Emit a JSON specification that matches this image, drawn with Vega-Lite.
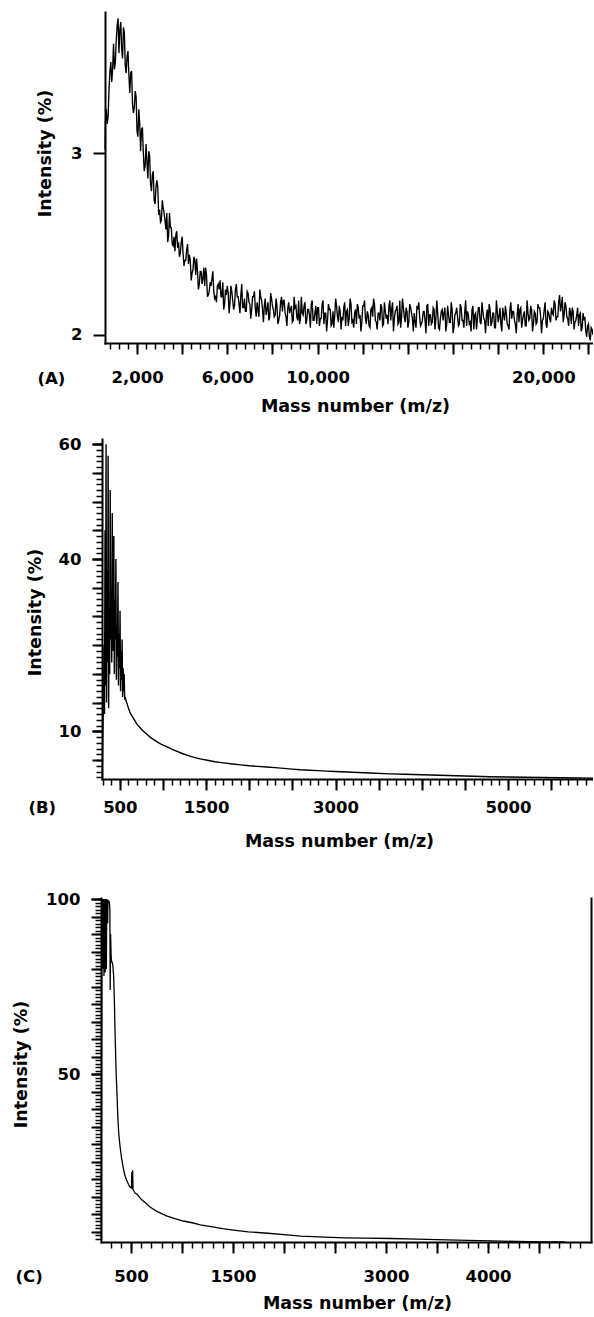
{
"$schema": "https://vega.github.io/schema/vega-lite/v6.json",
"padding": {"left": 0, "top": 12, "right": 0, "bottom": 0},
"background": "white",
"spacing": 0,
"config": {
  "view": {"stroke": null},
  "font": "DejaVu Sans",
  "axis": {"labelFont": "DejaVu Sans", "titleFont": "DejaVu Sans", "labelFontSize": 16.5, "titleFontSize": 17.5, "labelFontWeight": "bold", "titleFontWeight": "bold", "labelColor": "#000", "titleColor": "#000", "tickColor": "#000", "domainColor": "#000", "grid": false, "labelFlush": false, "labelOverlap": false, "domainWidth": 2, "tickWidth": 2, "domainCap": "square"}
},
"datasets": {
"A": [
{"mz":585,"i":3.02},{"mz":600,"i":3.17},{"mz":680,"i":3.16},{"mz":760,"i":3.35},{"mz":840,"i":3.50},{"mz":920,"i":3.46},{"mz":1000,"i":3.46},{"mz":1080,"i":3.62},{"mz":1160,"i":3.74},{"mz":1240,"i":3.68},{"mz":1320,"i":3.57},{"mz":1400,"i":3.69},{"mz":1480,"i":3.48},{"mz":1560,"i":3.53},{"mz":1640,"i":3.43},{"mz":1720,"i":3.44},{"mz":1800,"i":3.27},{"mz":1880,"i":3.25},{"mz":1960,"i":3.31},{"mz":2040,"i":3.09},{"mz":2120,"i":3.16},{"mz":2200,"i":3.13},{"mz":2280,"i":3.00},{"mz":2360,"i":2.93},{"mz":2440,"i":2.95},{"mz":2520,"i":3.01},{"mz":2600,"i":2.83},{"mz":2680,"i":2.88},{"mz":2760,"i":2.74},{"mz":2840,"i":2.81},{"mz":2920,"i":2.81},{"mz":3000,"i":2.69},{"mz":3080,"i":2.63},{"mz":3160,"i":2.70},{"mz":3240,"i":2.63},{"mz":3320,"i":2.67},{"mz":3400,"i":2.55},{"mz":3480,"i":2.59},{"mz":3560,"i":2.50},{"mz":3640,"i":2.54},{"mz":3720,"i":2.55},{"mz":3800,"i":2.48},{"mz":3880,"i":2.43},{"mz":3960,"i":2.51},{"mz":4040,"i":2.45},{"mz":4120,"i":2.41},{"mz":4200,"i":2.47},{"mz":4280,"i":2.39},{"mz":4360,"i":2.41},{"mz":4440,"i":2.34},{"mz":4520,"i":2.43},{"mz":4600,"i":2.33},{"mz":4680,"i":2.35},{"mz":4760,"i":2.28},{"mz":4840,"i":2.35},{"mz":4920,"i":2.31},{"mz":5000,"i":2.27},{"mz":5080,"i":2.33},{"mz":5160,"i":2.22},{"mz":5240,"i":2.29},{"mz":5320,"i":2.31},{"mz":5400,"i":2.24},{"mz":5480,"i":2.21},{"mz":5560,"i":2.27},{"mz":5640,"i":2.25},{"mz":5720,"i":2.21},{"mz":5800,"i":2.29},{"mz":5880,"i":2.17},{"mz":5960,"i":2.22},{"mz":6040,"i":2.23},{"mz":6120,"i":2.18},{"mz":6200,"i":2.24},{"mz":6280,"i":2.14},{"mz":6360,"i":2.25},{"mz":6440,"i":2.21},{"mz":6520,"i":2.17},{"mz":6600,"i":2.22},{"mz":6680,"i":2.15},{"mz":6760,"i":2.20},{"mz":6840,"i":2.13},{"mz":6920,"i":2.23},{"mz":7000,"i":2.17},{"mz":7080,"i":2.14},{"mz":7160,"i":2.21},{"mz":7240,"i":2.15},{"mz":7320,"i":2.18},{"mz":7400,"i":2.10},{"mz":7480,"i":2.21},{"mz":7560,"i":2.14},{"mz":7640,"i":2.16},{"mz":7720,"i":2.11},{"mz":7800,"i":2.18},{"mz":7880,"i":2.10},{"mz":7960,"i":2.20},{"mz":8040,"i":2.14},{"mz":8120,"i":2.11},{"mz":8200,"i":2.16},{"mz":8280,"i":2.08},{"mz":8360,"i":2.18},{"mz":8440,"i":2.13},{"mz":8520,"i":2.19},{"mz":8600,"i":2.10},{"mz":8680,"i":2.15},{"mz":8760,"i":2.12},{"mz":8840,"i":2.16},{"mz":8920,"i":2.08},{"mz":9000,"i":2.15},{"mz":9080,"i":2.10},{"mz":9160,"i":2.19},{"mz":9240,"i":2.09},{"mz":9320,"i":2.12},{"mz":9400,"i":2.16},{"mz":9480,"i":2.06},{"mz":9560,"i":2.14},{"mz":9640,"i":2.11},{"mz":9720,"i":2.17},{"mz":9800,"i":2.08},{"mz":9880,"i":2.12},{"mz":9960,"i":2.06},
{"mz":10040,"i":2.15},{"mz":10120,"i":2.09},{"mz":10200,"i":2.17},{"mz":10280,"i":2.06},{"mz":10360,"i":2.12},{"mz":10440,"i":2.08},{"mz":10520,"i":2.14},{"mz":10600,"i":2.05},{"mz":10680,"i":2.13},{"mz":10760,"i":2.11},{"mz":10840,"i":2.16},{"mz":10920,"i":2.07},{"mz":11000,"i":2.13},{"mz":11080,"i":2.10},{"mz":11160,"i":2.15},{"mz":11240,"i":2.05},{"mz":11320,"i":2.14},{"mz":11400,"i":2.09},{"mz":11480,"i":2.17},{"mz":11560,"i":2.08},{"mz":11640,"i":2.12},{"mz":11720,"i":2.06},{"mz":11800,"i":2.15},{"mz":11880,"i":2.11},{"mz":11960,"i":2.07},{"mz":12040,"i":2.16},{"mz":12120,"i":2.09},{"mz":12200,"i":2.13},{"mz":12280,"i":2.05},{"mz":12360,"i":2.14},{"mz":12440,"i":2.10},{"mz":12520,"i":2.17},{"mz":12600,"i":2.07},{"mz":12680,"i":2.12},{"mz":12760,"i":2.08},{"mz":12840,"i":2.15},{"mz":12920,"i":2.06},{"mz":13000,"i":2.13},{"mz":13080,"i":2.11},{"mz":13160,"i":2.16},{"mz":13240,"i":2.08},{"mz":13320,"i":2.18},{"mz":13400,"i":2.09},{"mz":13480,"i":2.14},{"mz":13560,"i":2.06},{"mz":13640,"i":2.19},{"mz":13720,"i":2.10},{"mz":13800,"i":2.15},{"mz":13880,"i":2.07},{"mz":13960,"i":2.13},
{"mz":14040,"i":2.07},{"mz":14120,"i":2.15},{"mz":14200,"i":2.09},{"mz":14280,"i":2.12},{"mz":14360,"i":2.04},{"mz":14440,"i":2.14},{"mz":14520,"i":2.10},{"mz":14600,"i":2.06},{"mz":14680,"i":2.13},{"mz":14760,"i":2.08},{"mz":14840,"i":2.16},{"mz":14920,"i":2.05},{"mz":15000,"i":2.11},{"mz":15080,"i":2.07},{"mz":15160,"i":2.14},{"mz":15240,"i":2.09},{"mz":15320,"i":2.12},{"mz":15400,"i":2.03},{"mz":15480,"i":2.13},{"mz":15560,"i":2.08},{"mz":15640,"i":2.15},{"mz":15720,"i":2.06},{"mz":15800,"i":2.11},{"mz":15880,"i":2.07},{"mz":15960,"i":2.14},{"mz":16040,"i":2.04},{"mz":16120,"i":2.12},{"mz":16200,"i":2.10},{"mz":16280,"i":2.06},{"mz":16360,"i":2.15},{"mz":16440,"i":2.08},{"mz":16520,"i":2.13},{"mz":16600,"i":2.05},{"mz":16680,"i":2.11},{"mz":16760,"i":2.07},{"mz":16840,"i":2.14},{"mz":16920,"i":2.03},{"mz":17000,"i":2.12},{"mz":17080,"i":2.09},{"mz":17160,"i":2.15},{"mz":17240,"i":2.06},{"mz":17320,"i":2.13},{"mz":17400,"i":2.08},{"mz":17480,"i":2.11},{"mz":17560,"i":2.05},{"mz":17640,"i":2.14},{"mz":17720,"i":2.07},{"mz":17800,"i":2.12},{"mz":17880,"i":2.04},{"mz":17960,"i":2.13},{"mz":18040,"i":2.10},{"mz":18120,"i":2.06},{"mz":18200,"i":2.15},{"mz":18280,"i":2.08},{"mz":18360,"i":2.12},{"mz":18440,"i":2.05},{"mz":18520,"i":2.14},{"mz":18600,"i":2.09},{"mz":18680,"i":2.13},{"mz":18760,"i":2.06},{"mz":18840,"i":2.11},{"mz":18920,"i":2.07},{"mz":19000,"i":2.15},{"mz":19080,"i":2.08},{"mz":19160,"i":2.13},{"mz":19240,"i":2.05},{"mz":19320,"i":2.12},{"mz":19400,"i":2.09},{"mz":19480,"i":2.14},{"mz":19560,"i":2.06},{"mz":19640,"i":2.12},{"mz":19720,"i":2.07},{"mz":19800,"i":2.15},{"mz":19880,"i":2.10},{"mz":19960,"i":2.08},{"mz":20040,"i":2.14},{"mz":20120,"i":2.06},{"mz":20200,"i":2.13},{"mz":20280,"i":2.09},{"mz":20360,"i":2.15},{"mz":20440,"i":2.11},{"mz":20520,"i":2.17},{"mz":20600,"i":2.10},{"mz":20680,"i":2.18},{"mz":20760,"i":2.13},{"mz":20840,"i":2.21},{"mz":20920,"i":2.11},{"mz":21000,"i":2.16},{"mz":21080,"i":2.09},{"mz":21160,"i":2.15},{"mz":21240,"i":2.06},{"mz":21320,"i":2.13},{"mz":21400,"i":2.07},{"mz":21480,"i":2.11},{"mz":21560,"i":2.05},{"mz":21640,"i":2.12},{"mz":21720,"i":2.04},{"mz":21800,"i":2.08},{"mz":21880,"i":2.02},{"mz":21960,"i":2.05},{"mz":22040,"i":1.99},{"mz":22120,"i":2.04},{"mz":22200,"i":2.00},
{"mz":640,"i":3.24},{"mz":720,"i":3.20},{"mz":800,"i":3.45},{"mz":880,"i":3.39},{"mz":960,"i":3.60},{"mz":1040,"i":3.50},{"mz":1120,"i":3.70},{"mz":1200,"i":3.55},{"mz":1280,"i":3.72},{"mz":1360,"i":3.52},{"mz":1440,"i":3.66},{"mz":1520,"i":3.44},{"mz":1600,"i":3.56},{"mz":1680,"i":3.33},{"mz":1760,"i":3.45},{"mz":1840,"i":3.22},{"mz":1920,"i":3.34},{"mz":2000,"i":3.12},{"mz":2080,"i":3.24},{"mz":2160,"i":3.01},{"mz":2240,"i":3.14},{"mz":2320,"i":2.90},{"mz":2400,"i":3.05},{"mz":2480,"i":2.86},{"mz":2560,"i":2.98},{"mz":2640,"i":2.79},{"mz":2720,"i":2.90},{"mz":2800,"i":2.72},{"mz":2880,"i":2.85},{"mz":2960,"i":2.66},
{"mz":3040,"i":2.62},{"mz":3120,"i":2.74},{"mz":3200,"i":2.67},{"mz":3280,"i":2.58},{"mz":3360,"i":2.51},{"mz":3440,"i":2.67},{"mz":3520,"i":2.59},{"mz":3600,"i":2.49},{"mz":3680,"i":2.46},{"mz":3760,"i":2.57},{"mz":3840,"i":2.51},{"mz":3920,"i":2.45},{"mz":4000,"i":2.54},{"mz":4080,"i":2.38},{"mz":4160,"i":2.41},{"mz":4240,"i":2.50},{"mz":4320,"i":2.44},{"mz":4400,"i":2.30},{"mz":4480,"i":2.36},{"mz":4560,"i":2.41},{"mz":4640,"i":2.42},{"mz":4720,"i":2.25},{"mz":4800,"i":2.35},{"mz":4880,"i":2.28},{"mz":4960,"i":2.37},{"mz":5040,"i":2.37},{"mz":5120,"i":2.21},{"mz":5200,"i":2.24},{"mz":5280,"i":2.27},{"mz":5360,"i":2.35},{"mz":5440,"i":2.20},{"mz":5520,"i":2.18},{"mz":5600,"i":2.28},{"mz":5680,"i":2.30},{"mz":5760,"i":2.21},{"mz":5840,"i":2.14},{"mz":5920,"i":2.25},{"mz":6000,"i":2.27},{"mz":6080,"i":2.12},{"mz":6160,"i":2.27},{"mz":6240,"i":2.19},{"mz":6320,"i":2.16},{"mz":6400,"i":2.28},{"mz":6480,"i":2.21},{"mz":6560,"i":2.12},{"mz":6640,"i":2.28},{"mz":6720,"i":2.15},{"mz":6800,"i":2.13},{"mz":6880,"i":2.24},{"mz":6960,"i":2.18},{"mz":7040,"i":2.09},{"mz":7120,"i":2.21},{"mz":7200,"i":2.24},{"mz":7280,"i":2.10},{"mz":7360,"i":2.14},{"mz":7440,"i":2.25},{"mz":7520,"i":2.19},{"mz":7600,"i":2.07},{"mz":7680,"i":2.20},{"mz":7760,"i":2.14},{"mz":7840,"i":2.08},{"mz":7920,"i":2.23},{"mz":8000,"i":2.16},{"mz":8080,"i":2.10},{"mz":8160,"i":2.20},{"mz":8240,"i":2.06},{"mz":8320,"i":2.11},{"mz":8400,"i":2.21},{"mz":8480,"i":2.19},{"mz":8560,"i":2.12},{"mz":8640,"i":2.05},{"mz":8720,"i":2.18},{"mz":8800,"i":2.14},{"mz":8880,"i":2.07},{"mz":8960,"i":2.21},{"mz":9040,"i":2.16},{"mz":9120,"i":2.08},{"mz":9200,"i":2.06},{"mz":9280,"i":2.21},{"mz":9360,"i":2.11},{"mz":9440,"i":2.18},{"mz":9520,"i":2.08},{"mz":9600,"i":2.14},{"mz":9680,"i":2.04},{"mz":9760,"i":2.19},{"mz":9840,"i":2.08},{"mz":9920,"i":2.16},
{"mz":10000,"i":2.15},{"mz":10080,"i":2.05},{"mz":10160,"i":2.09},{"mz":10240,"i":2.19},{"mz":10320,"i":2.12},{"mz":10400,"i":2.02},{"mz":10480,"i":2.17},{"mz":10560,"i":2.14},{"mz":10640,"i":2.06},{"mz":10720,"i":2.04},{"mz":10800,"i":2.20},{"mz":10880,"i":2.10},{"mz":10960,"i":2.16},{"mz":11040,"i":2.03},{"mz":11120,"i":2.08},{"mz":11200,"i":2.18},{"mz":11280,"i":2.13},{"mz":11360,"i":2.05},{"mz":11440,"i":2.20},{"mz":11520,"i":2.07},{"mz":11600,"i":2.04},{"mz":11680,"i":2.14},{"mz":11760,"i":2.17},{"mz":11840,"i":2.09},{"mz":11920,"i":2.02},{"mz":12000,"i":2.16},{"mz":12080,"i":2.19},{"mz":12160,"i":2.06},{"mz":12240,"i":2.11},{"mz":12320,"i":2.04},{"mz":12400,"i":2.15},{"mz":12480,"i":2.20},{"mz":12560,"i":2.08},{"mz":12640,"i":2.03},{"mz":12720,"i":2.12},{"mz":12800,"i":2.17},{"mz":12880,"i":2.05},{"mz":12960,"i":2.18},{"mz":13040,"i":2.09},{"mz":13120,"i":2.06},{"mz":13200,"i":2.19},{"mz":13280,"i":2.14},{"mz":13360,"i":2.02},{"mz":13440,"i":2.13},{"mz":13520,"i":2.16},{"mz":13600,"i":2.07},{"mz":13680,"i":2.04},{"mz":13760,"i":2.20},{"mz":13840,"i":2.10},{"mz":13920,"i":2.15},
{"mz":14000,"i":2.04},{"mz":14080,"i":2.17},{"mz":14160,"i":2.12},{"mz":14240,"i":2.02},{"mz":14320,"i":2.07},{"mz":14400,"i":2.16},{"mz":14480,"i":2.18},{"mz":14560,"i":2.05},{"mz":14640,"i":2.08},{"mz":14720,"i":2.13},{"mz":14800,"i":2.01},{"mz":14880,"i":2.17},{"mz":14960,"i":2.11},{"mz":15040,"i":2.06},{"mz":15120,"i":2.15},{"mz":15200,"i":2.03},{"mz":15280,"i":2.19},{"mz":15360,"i":2.04},{"mz":15440,"i":2.09},{"mz":15520,"i":2.14},{"mz":15600,"i":2.12},{"mz":15680,"i":2.02},{"mz":15760,"i":2.16},{"mz":15840,"i":2.07},{"mz":15920,"i":2.18},{"mz":16000,"i":2.01},{"mz":16080,"i":2.11},{"mz":16160,"i":2.15},{"mz":16240,"i":2.05},{"mz":16320,"i":2.17},{"mz":16400,"i":2.08},{"mz":16480,"i":2.04},{"mz":16560,"i":2.19},{"mz":16640,"i":2.13},{"mz":16720,"i":2.06},{"mz":16800,"i":2.02},{"mz":16880,"i":2.16},{"mz":16960,"i":2.11},{"mz":17040,"i":2.03},{"mz":17120,"i":2.15},{"mz":17200,"i":2.07},{"mz":17280,"i":2.18},{"mz":17360,"i":2.09},{"mz":17440,"i":2.01},{"mz":17520,"i":2.14},{"mz":17600,"i":2.17},{"mz":17680,"i":2.05},{"mz":17760,"i":2.12},{"mz":17840,"i":2.04},{"mz":17920,"i":2.19},{"mz":18000,"i":2.07},{"mz":18080,"i":2.15},{"mz":18160,"i":2.02},{"mz":18240,"i":2.11},{"mz":18320,"i":2.16},{"mz":18400,"i":2.06},{"mz":18480,"i":2.03},{"mz":18560,"i":2.18},{"mz":18640,"i":2.13},{"mz":18720,"i":2.08},{"mz":18800,"i":2.01},{"mz":18880,"i":2.17},{"mz":18960,"i":2.14},{"mz":19040,"i":2.04},{"mz":19120,"i":2.11},{"mz":19200,"i":2.05},{"mz":19280,"i":2.19},{"mz":19360,"i":2.08},{"mz":19440,"i":2.16},{"mz":19520,"i":2.02},{"mz":19600,"i":2.13},{"mz":19680,"i":2.06},{"mz":19760,"i":2.17},{"mz":19840,"i":2.15},{"mz":19920,"i":2.01},{"mz":20000,"i":2.09},{"mz":20080,"i":2.18},{"mz":20160,"i":2.04},{"mz":20240,"i":2.12},{"mz":20320,"i":2.07},{"mz":20400,"i":2.12},{"mz":20480,"i":2.19},{"mz":20560,"i":2.08},{"mz":20640,"i":2.10},{"mz":20720,"i":2.22},{"mz":20800,"i":2.16},{"mz":20880,"i":2.07},{"mz":20960,"i":2.18},{"mz":21040,"i":2.10},{"mz":21120,"i":2.05},{"mz":21200,"i":2.13},{"mz":21280,"i":2.15},{"mz":21360,"i":2.03},{"mz":21440,"i":2.08},{"mz":21520,"i":2.15},{"mz":21600,"i":2.11},{"mz":21680,"i":2.02},{"mz":21760,"i":2.12},{"mz":21840,"i":2.10},{"mz":21920,"i":1.99},{"mz":22000,"i":2.06},{"mz":22080,"i":1.97},{"mz":22160,"i":2.03}
],
"B": [
{"mz":296,"i":2.0},{"mz":300,"i":8},{"mz":305,"i":12},{"mz":310,"i":14},{"mz":316,"i":25},{"mz":322,"i":13},{"mz":328,"i":45},{"mz":334,"i":18},{"mz":340,"i":60},{"mz":346,"i":15},{"mz":352,"i":38},{"mz":358,"i":22},{"mz":364,"i":58},{"mz":370,"i":14},{"mz":376,"i":30},{"mz":382,"i":20},{"mz":388,"i":52},{"mz":394,"i":26},{"mz":400,"i":35},{"mz":406,"i":22},{"mz":412,"i":48},{"mz":418,"i":28},{"mz":424,"i":24},{"mz":430,"i":44},{"mz":436,"i":20},{"mz":442,"i":33},{"mz":448,"i":26},{"mz":454,"i":40},{"mz":460,"i":19},{"mz":466,"i":28},{"mz":472,"i":23},{"mz":478,"i":36},{"mz":484,"i":18},{"mz":490,"i":27},{"mz":496,"i":21},{"mz":502,"i":31},{"mz":508,"i":17},{"mz":514,"i":24},{"mz":520,"i":19},{"mz":526,"i":26},{"mz":532,"i":16},{"mz":538,"i":21},{"mz":544,"i":17},{"mz":550,"i":20},{"mz":556,"i":15.5},{"mz":562,"i":16},{"mz":570,"i":15.4},{"mz":580,"i":15.0},{"mz":600,"i":14.0},{"mz":620,"i":13.2},{"mz":640,"i":12.7},{"mz":660,"i":12.2},{"mz":680,"i":11.7},{"mz":700,"i":11.2},{"mz":730,"i":10.7},{"mz":760,"i":10.2},{"mz":790,"i":9.8},{"mz":820,"i":9.4},{"mz":850,"i":9.0},{"mz":880,"i":8.7},{"mz":920,"i":8.3},{"mz":960,"i":7.9},{"mz":1000,"i":7.6},{"mz":1050,"i":7.3},{"mz":1100,"i":6.9},{"mz":1150,"i":6.6},{"mz":1230,"i":6.1},{"mz":1330,"i":5.6},{"mz":1430,"i":5.2},{"mz":1500,"i":5.0},{"mz":1600,"i":4.7},{"mz":1700,"i":4.5},{"mz":1810,"i":4.3},{"mz":1900,"i":4.15},{"mz":2000,"i":4.0},{"mz":2100,"i":3.9},{"mz":2200,"i":3.8},{"mz":2300,"i":3.68},{"mz":2400,"i":3.55},{"mz":2500,"i":3.42},{"mz":2590,"i":3.3},{"mz":2700,"i":3.22},{"mz":2800,"i":3.15},{"mz":2900,"i":3.07},{"mz":3000,"i":3.0},{"mz":3200,"i":2.87},{"mz":3400,"i":2.75},{"mz":3630,"i":2.6},{"mz":3800,"i":2.52},{"mz":4000,"i":2.43},{"mz":4200,"i":2.35},{"mz":4400,"i":2.27},{"mz":4600,"i":2.18},{"mz":4790,"i":2.1},{"mz":5000,"i":2.05},{"mz":5200,"i":2.0},{"mz":5400,"i":1.95},{"mz":5600,"i":1.92},{"mz":5800,"i":1.88},{"mz":5985,"i":1.85}
],
"C": [
{"mz":208,"i":3},{"mz":211,"i":45},{"mz":214,"i":100},{"mz":217,"i":82},{"mz":220,"i":100},{"mz":223,"i":80},{"mz":226,"i":100},{"mz":229,"i":85},{"mz":232,"i":100},{"mz":235,"i":78},{"mz":238,"i":100},{"mz":241,"i":83},{"mz":244,"i":100},{"mz":247,"i":79},{"mz":250,"i":100},{"mz":253,"i":86},{"mz":256,"i":100},{"mz":259,"i":80},{"mz":262,"i":100},{"mz":268,"i":99.5},{"mz":271,"i":93},{"mz":274,"i":99.5},{"mz":282,"i":99.5},{"mz":288,"i":99},{"mz":293,"i":97},{"mz":296,"i":74},{"mz":300,"i":90},{"mz":305,"i":84},{"mz":310,"i":82},{"mz":316,"i":82},{"mz":322,"i":81},{"mz":330,"i":78},{"mz":338,"i":70},{"mz":342,"i":64},{"mz":350,"i":55},{"mz":356,"i":49},{"mz":362,"i":45},{"mz":368,"i":40},{"mz":372,"i":37},{"mz":380,"i":33},{"mz":392,"i":29.5},{"mz":405,"i":26.5},{"mz":421,"i":23.7},{"mz":440,"i":21},{"mz":461,"i":19.4},{"mz":475,"i":18.5},{"mz":490,"i":17.7},{"mz":500,"i":17.5},{"mz":505,"i":18},{"mz":508,"i":22},{"mz":512,"i":17.2},{"mz":516,"i":22.5},{"mz":520,"i":17},{"mz":530,"i":16.5},{"mz":540,"i":16},{"mz":559,"i":15.7},{"mz":600,"i":14.2},{"mz":650,"i":13},{"mz":687,"i":12},{"mz":750,"i":10.8},{"mz":800,"i":10.1},{"mz":855,"i":9.4},{"mz":930,"i":8.7},{"mz":1012,"i":8.0},{"mz":1100,"i":7.5},{"mz":1180,"i":6.9},{"mz":1300,"i":6.3},{"mz":1400,"i":5.8},{"mz":1505,"i":5.4},{"mz":1650,"i":4.9},{"mz":1840,"i":4.5},{"mz":2000,"i":4.1},{"mz":2165,"i":3.7},{"mz":2400,"i":3.4},{"mz":2600,"i":3.2},{"mz":2800,"i":3.1},{"mz":3052,"i":3.0},{"mz":3300,"i":2.8},{"mz":3600,"i":2.6},{"mz":3800,"i":2.45},{"mz":4037,"i":2.3},{"mz":4300,"i":2.15},{"mz":4500,"i":2.05},{"mz":4756,"i":2.0}
]
},
"vconcat": [
{
  "width": 493, "height": 331,
  "data": {"name": "A"},
  "layer": [
    {"mark": {"type": "line", "color": "black", "strokeWidth": 1.35, "clip": true},
     "encoding": {
       "x": {"field": "mz", "type": "quantitative", "scale": {"domain": [582, 22200], "range": [5, 493], "nice": false, "zero": false},
             "axis": {"orient": "bottom", "values": [2000,4000,6000,8000,10000,12000,14000,16000,18000,20000,22000], "format": ",d", "labelExpr": "indexof([2000,6000,10000,20000], datum.value) >= 0 ? datum.label : ''", "tickSize": 11, "labelPadding": 28, "labelBaseline": "alphabetic", "title": "Mass number (m/z)", "titleX": 255, "titleY": 68, "titleBaseline": "alphabetic", "titleAlign": "center", "minExtent": 93, "maxExtent": 93}},
       "y": {"field": "i", "type": "quantitative", "scale": {"domain": [1.956, 3.775], "nice": false, "zero": false},
             "axis": {"orient": "left", "offset": -5, "values": [2, 3], "tickSize": 12, "labelPadding": 11, "title": "Intensity (%)", "titleX": -69, "titleY": 141, "titleAngle": -90, "titleBaseline": "top", "titleAlign": "center", "minExtent": 105, "maxExtent": 105}}
     }},
    {"mark": {"type": "line", "opacity": 0},
     "encoding": {
       "x": {"field": "mz", "type": "quantitative", "scale": {"domain": [582, 22200], "range": [5, 493], "nice": false, "zero": false},
             "axis": {"orient": "bottom", "values": [800,1200,1600,2000,2400,2800,3200,3600,4000,4400,4800,5200,5600,6000,6400,6800,7200,7600,8000,8400,8800,9200,9600,10000,10400,10800,11200,11600,12000,12400,12800,13200,13600,14000,14400,14800,15200,15600,16000,16400,16800,17200,17600,18000,18400,18800,19200,19600,20000,20400,20800,21200,21600,22000], "tickSize": 6, "tickWidth": 1.5, "labels": false, "domain": false, "title": "(A)", "titleX": -63, "titleY": 40, "titleAlign": "left", "titleAngle": 0, "titleBaseline": "alphabetic", "titleFontSize": 16.5, "minExtent": 0, "maxExtent": 0}},
       "y": {"field": "i", "type": "quantitative", "scale": {"domain": [1.956, 3.775], "nice": false, "zero": false}, "axis": null}
     }}
  ],
  "resolve": {"axis": {"x": "independent", "y": "independent"}}
},
{
  "width": 493, "height": 340,
  "data": {"name": "B"},
  "layer": [
    {"mark": {"type": "line", "color": "black", "strokeWidth": 1.4, "clip": true},
     "encoding": {
       "x": {"field": "mz", "type": "quantitative", "scale": {"domain": [293, 5985], "range": [2, 493], "nice": false, "zero": false},
             "axis": {"orient": "bottom", "values": [500,1000,1500,2000,2500,3000,3500,4000,4500,5000,5500], "format": "d", "labelExpr": "indexof([500,1500,3000,5000], datum.value) >= 0 ? datum.label : ''", "tickSize": 11, "labelPadding": 22, "labelBaseline": "alphabetic", "title": "Mass number (m/z)", "titleX": 239, "titleY": 67, "titleBaseline": "alphabetic", "titleAlign": "center", "minExtent": 112, "maxExtent": 112}},
       "y": {"field": "i", "type": "quantitative", "scale": {"domain": [1.7, 60.9], "nice": false, "zero": false},
             "axis": {"orient": "left", "offset": -2, "values": [10, 40, 60], "tickSize": 10, "labelPadding": 11, "title": "Intensity (%)", "titleX": -76, "titleY": 173, "titleAngle": -90, "titleBaseline": "top", "titleAlign": "center", "minExtent": 102, "maxExtent": 102}}
     }},
    {"mark": {"type": "line", "opacity": 0},
     "encoding": {
       "x": {"field": "mz", "type": "quantitative", "scale": {"domain": [293, 5985], "range": [2, 493], "nice": false, "zero": false},
             "axis": {"orient": "bottom", "values": [300,400,500,600,700,800,900,1000,1100,1200,1300,1400,1500,1600,1700,1800,1900,2000,2100,2200,2300,2400,2500,2600,2700,2800,2900,3000,3100,3200,3300,3400,3500,3600,3700,3800,3900,4000,4100,4200,4300,4400,4500,4600,4700,4800,4900,5000,5100,5200,5300,5400,5500,5600,5700,5800,5900], "tickSize": 6, "tickWidth": 1.5, "labels": false, "domain": false, "title": "(B)", "titleX": -72, "titleY": 33, "titleAlign": "left", "titleAngle": 0, "titleBaseline": "alphabetic", "titleFontSize": 16.5, "minExtent": 0, "maxExtent": 0}},
       "y": {"field": "i", "type": "quantitative", "scale": {"domain": [1.7, 60.9], "nice": false, "zero": false},
             "axis": {"orient": "left", "offset": -2, "values": [2,3,4,5,6,7,8,9,10,11,12,13,14,15,16,17,18,19,20,21,22,23,24,25,26,27,28,29,30,31,32,33,34,35,36,37,38,39,40,41,42,43,44,45,46,47,48,49,50,51,52,53,54,55,56,57,58,59,60], "tickSize": 6, "tickWidth": 1.5, "labels": false, "domain": false, "title": null, "minExtent": 0, "maxExtent": 0}}
     }},
    {"mark": {"type": "line", "opacity": 0},
     "encoding": {
       "x": {"field": "mz", "type": "quantitative", "scale": {"domain": [293, 5985], "range": [2, 493], "nice": false, "zero": false}, "axis": null},
       "y": {"field": "i", "type": "quantitative", "scale": {"domain": [1.7, 60.9], "nice": false, "zero": false},
             "axis": {"orient": "left", "offset": -2, "values": [5,10,15,20,25,30,35,40,45,50,55,60], "tickSize": 10, "labels": false, "domain": false, "title": null, "minExtent": 0, "maxExtent": 0}}
     }}
  ],
  "resolve": {"axis": {"x": "independent", "y": "independent"}}
},
{
  "width": 491, "height": 344,
  "data": {"name": "C"},
  "layer": [
    {"mark": {"type": "line", "color": "black", "strokeWidth": 1.3, "clip": true},
     "encoding": {
       "x": {"field": "mz", "type": "quantitative", "scale": {"domain": [206, 5010], "range": [1, 491], "nice": false, "zero": false},
             "axis": {"orient": "bottom", "values": [500,1000,1500,2000,2500,3000,3500,4000,4500], "format": "d", "labelExpr": "indexof([500,1500,3000,4000], datum.value) >= 0 ? datum.label : ''", "tickSize": 11, "labelPadding": 28, "labelBaseline": "alphabetic", "title": "Mass number (m/z)", "titleX": 257, "titleY": 66, "titleBaseline": "alphabetic", "titleAlign": "center"}},
       "y": {"field": "i", "type": "quantitative", "scale": {"domain": [2, 100.3], "nice": false, "zero": false},
             "axis": {"orient": "left", "offset": -1, "values": [50, 100], "tickSize": 10, "labelPadding": 11, "title": "Intensity (%)", "titleX": -89, "titleY": 166, "titleAngle": -90, "titleBaseline": "top", "titleAlign": "center", "minExtent": 101, "maxExtent": 101}}
     }},
    {"mark": {"type": "line", "opacity": 0},
     "encoding": {
       "x": {"field": "mz", "type": "quantitative", "scale": {"domain": [206, 5010], "range": [1, 491], "nice": false, "zero": false},
             "axis": {"orient": "bottom", "values": [300,400,500,600,700,800,900,1000,1100,1200,1300,1400,1500,1600,1700,1800,1900,2000,2100,2200,2300,2400,2500,2600,2700,2800,2900,3000,3100,3200,3300,3400,3500,3600,3700,3800,3900,4000,4100,4200,4300,4400,4500,4600,4700,4800,4900], "tickSize": 6, "tickWidth": 1.5, "labels": false, "domain": false, "title": "(C)", "titleX": -85, "titleY": 39, "titleAlign": "left", "titleAngle": 0, "titleBaseline": "alphabetic", "titleFontSize": 16.5, "minExtent": 0, "maxExtent": 0}},
       "y": {"field": "i", "type": "quantitative", "scale": {"domain": [2, 100.3], "nice": false, "zero": false},
             "axis": {"orient": "left", "offset": -1, "values": [3,4,5,6,7,8,9,10,11,12,13,14,15,16,17,18,19,20,21,22,23,24,25,26,27,28,29,30,31,32,33,34,35,36,37,38,39,40,41,42,43,44,45,46,47,48,49,50,51,52,53,54,55,56,57,58,59,60,61,62,63,64,65,66,67,68,69,70,71,72,73,74,75,76,77,78,79,80,81,82,83,84,85,86,87,88,89,90,91,92,93,94,95,96,97,98,99,100], "tickSize": 6, "tickWidth": 1.5, "labels": false, "domain": false, "title": null, "minExtent": 0, "maxExtent": 0}}
     }},
    {"mark": {"type": "line", "opacity": 0},
     "encoding": {
       "x": {"field": "mz", "type": "quantitative", "scale": {"domain": [206, 5010], "range": [1, 491], "nice": false, "zero": false}, "axis": null},
       "y": {"field": "i", "type": "quantitative", "scale": {"domain": [2, 100.3], "nice": false, "zero": false},
             "axis": {"orient": "left", "offset": -1, "values": [5,10,15,20,25,30,35,40,45,50,55,60,65,70,75,80,85,90,95,100], "tickSize": 10, "labels": false, "domain": false, "title": null, "minExtent": 0, "maxExtent": 0}}
     }},
    {"mark": {"type": "line", "opacity": 0},
     "encoding": {
       "x": {"field": "mz", "type": "quantitative", "scale": {"domain": [206, 5010], "range": [1, 491], "nice": false, "zero": false}, "axis": null},
       "y": {"field": "i", "type": "quantitative", "scale": {"domain": [2, 100.3], "nice": false, "zero": false},
             "axis": {"orient": "right", "ticks": false, "labels": false, "domain": true, "title": null, "minExtent": 0, "maxExtent": 0}}
     }}
  ],
  "resolve": {"axis": {"x": "independent", "y": "independent"}}
}
]
}
